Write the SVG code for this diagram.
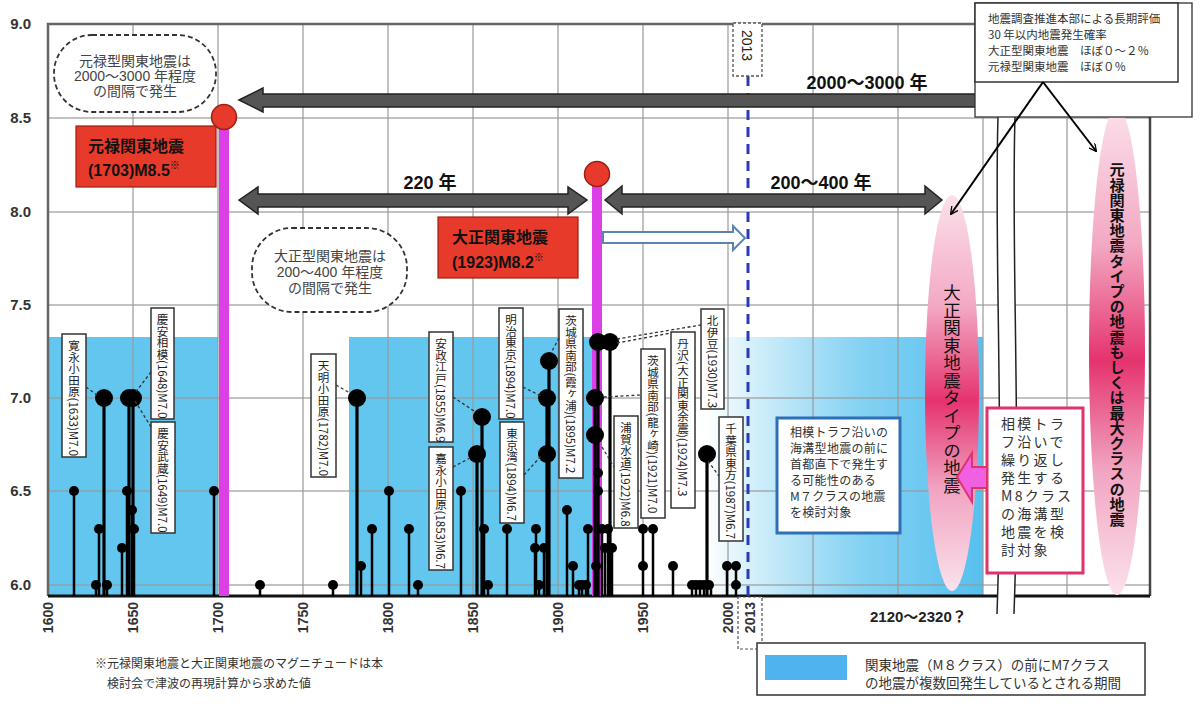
<svg xmlns="http://www.w3.org/2000/svg" width="1200" height="704" viewBox="0 0 1200 704">
<style>
text { font-family: "Liberation Sans", "Noto Sans CJK JP", sans-serif; }
.jp { font-family: "Noto Sans CJK JP", sans-serif; }
.grid { stroke: #9a9a9a; stroke-width: 1.5; opacity: 0.8; }
.stem { stroke: #000; stroke-width: 2.5; }
.stemB { stroke: #000; stroke-width: 3.2; }
.dot { fill: #000; }
.lead { stroke: #333; stroke-width: 1.3; stroke-dasharray: 3 2.5; fill: none; }
.lbox { fill: #fff; stroke: #333; stroke-width: 1.5; }
.vt { writing-mode: vertical-rl; font-size: 11.5px; fill: #222; font-family: "Noto Sans CJK JP", sans-serif; }
.bigarrow { fill: #555; stroke: #222; stroke-width: 1.5; }
.alabel { font-size: 18px; font-weight: bold; fill: #111; }
.ylab { font-size: 15px; font-weight: bold; fill: #333; text-anchor: end; }
.xlab { font-size: 14px; font-weight: bold; fill: #333; text-anchor: end; }
.bubble { fill: #fff; stroke: #333; stroke-width: 1.8; stroke-dasharray: 5 3; }
.btxt { font-size: 14px; fill: #444; text-anchor: middle; }
.redbox { fill: #e83a2a; stroke: #9a1f15; stroke-width: 1.2; }
.redtxt { font-size: 16px; font-weight: bold; fill: #111; }
.info { font-size: 11.5px; fill: #333; }
</style>
<defs>
<linearGradient id="pinkV" x1="0" y1="0" x2="0" y2="1">
<stop offset="0" stop-color="#fbe0ea"/>
<stop offset="0.28" stop-color="#f3a9c4"/>
<stop offset="0.52" stop-color="#e5336e"/>
<stop offset="0.74" stop-color="#f1a3c1"/>
<stop offset="1" stop-color="#fbe2ec"/>
</linearGradient>
<linearGradient id="blueH" x1="0" y1="0" x2="1" y2="0">
<stop offset="0" stop-color="#ffffff"/>
<stop offset="0.2" stop-color="#cdedfa"/>
<stop offset="0.55" stop-color="#86d2f3"/>
<stop offset="1" stop-color="#56c0ee"/>
</linearGradient>
<marker id="openArrow" viewBox="0 0 10 10" refX="9" refY="5" markerWidth="8" markerHeight="8" orient="auto" markerUnits="userSpaceOnUse">
<path d="M0,0 L10,5 L0,10" fill="none" stroke="#000" stroke-width="1.6"/>
</marker>
</defs>
<rect x="0" y="0" width="1200" height="704" fill="#fff"/>

<g id="m7-periods">
<rect x="48" y="337" width="170" height="259" fill="#62c6ee"/>
<rect x="349" y="337" width="244" height="259" fill="#62c6ee"/>
<rect x="705" y="337" width="278" height="259" fill="url(#blueH)"/>
</g>

<g id="grid">
<line class="grid" x1="48" y1="118" x2="1150" y2="118"/>
<line class="grid" x1="48" y1="212" x2="1150" y2="212"/>
<line class="grid" x1="48" y1="305" x2="1150" y2="305"/>
<line class="grid" x1="48" y1="398" x2="1150" y2="398"/>
<line class="grid" x1="48" y1="491" x2="1150" y2="491"/>
<line class="grid" x1="48" y1="585" x2="1150" y2="585"/>
<line class="grid" x1="133" y1="24" x2="133" y2="596"/>
<line class="grid" x1="218" y1="24" x2="218" y2="596"/>
<line class="grid" x1="303" y1="24" x2="303" y2="596"/>
<line class="grid" x1="388" y1="24" x2="388" y2="596"/>
<line class="grid" x1="473" y1="24" x2="473" y2="596"/>
<line class="grid" x1="558" y1="24" x2="558" y2="596"/>
<line class="grid" x1="643" y1="24" x2="643" y2="596"/>
<line class="grid" x1="728" y1="24" x2="728" y2="596"/>
<line class="grid" x1="813" y1="24" x2="813" y2="596"/>
<line class="grid" x1="898" y1="24" x2="898" y2="596"/>
<line class="grid" x1="983" y1="24" x2="983" y2="596"/>
<line class="grid" x1="1067" y1="117" x2="1067" y2="596"/>
</g>

<g id="frame">
<polyline points="48,596 48,24 975,24" fill="none" stroke="#666" stroke-width="2.5"/>
<line x1="1150" y1="117" x2="1150" y2="596" stroke="#444" stroke-width="2.5"/>
<line x1="48" y1="596" x2="1150" y2="596" stroke="#111" stroke-width="3"/>
</g>

<g id="axis-break">
<path d="M998,117 C994,250 1004,420 997,614 L1014,614 C1021,420 1011,250 1015,117 Z" fill="#fff"/>
<path d="M998,117 C994,250 1004,420 997,614" fill="none" stroke="#222" stroke-width="1.5"/>
<path d="M1015,117 C1011,250 1021,420 1014,614" fill="none" stroke="#222" stroke-width="1.5"/>
</g>

<g id="line-2013">
<line x1="748" y1="76" x2="748" y2="596" stroke="#2a3bb8" stroke-width="3" stroke-dasharray="10 7"/>
<rect x="733" y="23" width="29" height="53" fill="#fff" stroke="#555" stroke-width="1.3" stroke-dasharray="3 2"/>
<text transform="translate(742,30) rotate(90)" font-size="14" fill="#222">2013</text>
</g>

<g id="genroku-line">
<line x1="224" y1="118" x2="224" y2="596" stroke="#dd3fe6" stroke-width="10"/>
</g>
<g id="taisho-line">
<line x1="597" y1="174" x2="597" y2="596" stroke="#dd3fe6" stroke-width="10"/>
</g>

<g id="events">
<g class="stem">
<line x1="74" y1="491" x2="74" y2="596"/>
<line x1="96" y1="585" x2="96" y2="596"/>
<line x1="99" y1="529" x2="99" y2="596"/>
<line x1="107" y1="585" x2="107" y2="596"/>
<line x1="122" y1="548" x2="122" y2="596"/>
<line x1="127" y1="491" x2="127" y2="596"/>
<line x1="132" y1="510" x2="132" y2="596"/>
<line x1="134" y1="529" x2="134" y2="596"/>
<line x1="214" y1="491" x2="214" y2="596"/>
<line x1="260" y1="585" x2="260" y2="596"/>
<line x1="333" y1="585" x2="333" y2="596"/>
<line x1="361" y1="566" x2="361" y2="596"/>
<line x1="372" y1="529" x2="372" y2="596"/>
<line x1="389" y1="491" x2="389" y2="596"/>
<line x1="409" y1="529" x2="409" y2="596"/>
<line x1="418" y1="585" x2="418" y2="596"/>
<line x1="461" y1="491" x2="461" y2="596"/>
<line x1="484" y1="529" x2="484" y2="596"/>
<line x1="488" y1="585" x2="488" y2="596"/>
<line x1="507" y1="529" x2="507" y2="596"/>
<line x1="535" y1="548" x2="535" y2="596"/>
<line x1="536" y1="529" x2="536" y2="596"/>
<line x1="539" y1="585" x2="539" y2="596"/>
<line x1="544" y1="548" x2="544" y2="596"/>
<line x1="567" y1="510" x2="567" y2="596"/>
<line x1="573" y1="566" x2="573" y2="596"/>
<line x1="579" y1="585" x2="579" y2="596"/>
<line x1="582" y1="585" x2="582" y2="596"/>
<line x1="586" y1="585" x2="586" y2="596"/>
<line x1="588" y1="529" x2="588" y2="596"/>
<line x1="596" y1="566" x2="596" y2="596"/>
<line x1="598" y1="473" x2="598" y2="596"/>
<line x1="602" y1="529" x2="602" y2="596"/>
<line x1="608" y1="529" x2="608" y2="596"/>
<line x1="605" y1="548" x2="605" y2="596"/>
<line x1="612" y1="548" x2="612" y2="596"/>
<line x1="643" y1="529" x2="643" y2="596"/>
<line x1="653" y1="529" x2="653" y2="596"/>
<line x1="673" y1="566" x2="673" y2="596"/>
<line x1="692" y1="585" x2="692" y2="596"/>
<line x1="696" y1="585" x2="696" y2="596"/>
<line x1="700" y1="585" x2="700" y2="596"/>
<line x1="704" y1="585" x2="704" y2="596"/>
<line x1="711" y1="585" x2="711" y2="596"/>
<line x1="727" y1="566" x2="727" y2="596"/>
<line x1="736" y1="566" x2="736" y2="596"/>
</g>
<g class="stemB">
<line x1="104" y1="398" x2="104" y2="596"/>
<line x1="129" y1="398" x2="129" y2="596"/>
<line x1="133" y1="398" x2="133" y2="596"/>
<line x1="357" y1="398" x2="357" y2="596"/>
<line x1="477" y1="454" x2="477" y2="596"/>
<line x1="482" y1="417" x2="482" y2="596"/>
<line x1="547" y1="398" x2="547" y2="596"/>
<line x1="549" y1="361" x2="549" y2="596"/>
<line x1="595" y1="398" x2="595" y2="596"/>
<line x1="598" y1="342" x2="598" y2="596"/>
<line x1="610" y1="342" x2="610" y2="596"/>
<line x1="707" y1="454" x2="707" y2="596"/>
</g>
<g class="dot">
<circle cx="74" cy="491" r="5"/>
<circle cx="96" cy="585" r="5"/>
<circle cx="99" cy="529" r="5"/>
<circle cx="104" cy="398" r="9"/>
<circle cx="107" cy="585" r="5"/>
<circle cx="122" cy="548" r="5"/>
<circle cx="127" cy="491" r="5"/>
<circle cx="129" cy="398" r="9"/>
<circle cx="133" cy="398" r="9"/>
<circle cx="132" cy="510" r="5"/>
<circle cx="134" cy="529" r="5"/>
<circle cx="214" cy="491" r="5"/>
<circle cx="260" cy="585" r="5"/>
<circle cx="333" cy="585" r="5"/>
<circle cx="357" cy="398" r="9"/>
<circle cx="361" cy="566" r="5"/>
<circle cx="372" cy="529" r="5"/>
<circle cx="389" cy="491" r="5"/>
<circle cx="409" cy="529" r="5"/>
<circle cx="418" cy="585" r="5"/>
<circle cx="461" cy="491" r="5"/>
<circle cx="477" cy="454" r="9"/>
<circle cx="482" cy="417" r="9"/>
<circle cx="484" cy="529" r="5"/>
<circle cx="488" cy="585" r="5"/>
<circle cx="507" cy="529" r="5"/>
<circle cx="535" cy="548" r="5"/>
<circle cx="536" cy="529" r="5"/>
<circle cx="539" cy="585" r="5"/>
<circle cx="544" cy="548" r="5"/>
<circle cx="547" cy="398" r="9"/>
<circle cx="547" cy="454" r="9"/>
<circle cx="549" cy="361" r="9"/>
<circle cx="567" cy="510" r="5"/>
<circle cx="573" cy="566" r="5"/>
<circle cx="579" cy="585" r="5"/>
<circle cx="582" cy="585" r="5"/>
<circle cx="586" cy="585" r="5"/>
<circle cx="588" cy="529" r="5"/>
<circle cx="595" cy="398" r="9"/>
<circle cx="595" cy="435" r="9"/>
<circle cx="596" cy="566" r="5"/>
<circle cx="598" cy="342" r="9"/>
<circle cx="610" cy="342" r="9"/>
<circle cx="598" cy="473" r="5"/>
<circle cx="598" cy="491" r="5"/>
<circle cx="602" cy="529" r="5"/>
<circle cx="608" cy="529" r="5"/>
<circle cx="605" cy="548" r="5"/>
<circle cx="612" cy="548" r="5"/>
<circle cx="643" cy="529" r="5"/>
<circle cx="643" cy="566" r="5"/>
<circle cx="653" cy="529" r="5"/>
<circle cx="673" cy="566" r="5"/>
<circle cx="692" cy="585" r="5"/>
<circle cx="696" cy="585" r="5"/>
<circle cx="700" cy="585" r="5"/>
<circle cx="704" cy="585" r="5"/>
<circle cx="709" cy="585" r="5"/>
<circle cx="707" cy="454" r="9"/>
<circle cx="727" cy="566" r="5"/>
<circle cx="736" cy="566" r="5"/>
<circle cx="736" cy="585" r="5"/>
</g>
</g>

<g id="label-1633"><rect class="lbox" x="62" y="334" width="24" height="123"/><text class="vt" x="74" y="340">寛永小田原(1633)M7.0</text></g>
<g id="label-1648"><rect class="lbox" x="151" y="308" width="23" height="111"/><text class="vt" x="162.5" y="314">慶安相模(1648)M7.0</text></g>
<g id="label-1649"><rect class="lbox" x="151" y="422" width="24" height="111"/><text class="vt" x="163" y="428">慶安武蔵(1649)M7.0</text></g>
<g id="label-1782"><rect class="lbox" x="311" y="354" width="25" height="123"/><text class="vt" x="323.5" y="360">天明小田原(1782)M7.0</text></g>
<g id="label-1855"><rect class="lbox" x="429" y="332" width="24" height="110"/><text class="vt" x="441" y="338">安政江戸(1855)M6.9</text></g>
<g id="label-1853"><rect class="lbox" x="429" y="447" width="24" height="123"/><text class="vt" x="441" y="453">嘉永小田原(1853)M6.7</text></g>
<g id="label-1894a"><rect class="lbox" x="499" y="308" width="24" height="111"/><text class="vt" x="511" y="314">明治東京(1894)M7.0</text></g>
<g id="label-1894b"><rect class="lbox" x="500" y="422" width="24" height="101"/><text class="vt" x="512" y="428">東京湾(1894)M6.7</text></g>
<g id="label-1895"><rect class="lbox" x="559" y="309" width="24" height="169"/><text class="vt" x="571" y="315">茨城県南部(霞ヶ浦)(1895)M7.2</text></g>
<g id="label-1922"><rect class="lbox" x="614" y="416" width="24" height="112"/><text class="vt" x="626" y="422">浦賀水道(1922)M6.8</text></g>
<g id="label-1921"><rect class="lbox" x="641" y="349" width="24" height="169"/><text class="vt" x="653" y="355">茨城県南部(龍ヶ崎)(1921)M7.0</text></g>
<g id="label-1924"><rect class="lbox" x="671" y="332" width="24" height="176"/><text class="vt" x="683" y="338">丹沢(大正関東余震)(1924)M7.3</text></g>
<g id="label-1930"><rect class="lbox" x="701" y="309" width="23" height="100"/><text class="vt" x="712.5" y="315">北伊豆(1930)M7.3</text></g>
<g id="label-1987"><rect class="lbox" x="719" y="417" width="24" height="124"/><text class="vt" x="731" y="423">千葉県東方(1987)M6.7</text></g>

<g id="arrow-2000-3000">
<polygon class="bigarrow" points="239,100 263,88 263,94 976,94 976,107 263,107 263,112"/>
<text class="alabel" x="867" y="89" text-anchor="middle">2000〜3000 年</text>
</g>
<g id="arrow-220">
<polygon class="bigarrow" points="239,200 258,187 258,194 568,194 568,187 587,200 568,214 568,207 258,207 258,214"/>
<text class="alabel" x="430" y="189" text-anchor="middle">220 年</text>
</g>
<g id="arrow-200-400">
<polygon class="bigarrow" points="605,200 622,186 622,194 925,194 925,186 942,200 925,214 925,207 622,207 622,214"/>
<text class="alabel" x="821" y="189" text-anchor="middle">200〜400 年</text>
</g>
<g id="arrow-to-2013">
<polygon points="603,232 733,232 733,226 745,238 733,250 733,243 603,243" fill="#fff" stroke="#5b84b1" stroke-width="2"/>
</g>

<g id="genroku-quake">
<circle cx="224" cy="117" r="12.5" fill="#e83a2a" stroke="#9a1f15" stroke-width="1.5"/>
<rect class="redbox" x="76" y="126" width="140" height="61"/>
<text class="redtxt" x="88" y="152">元禄関東地震</text>
<text class="redtxt" x="88" y="176">(1703)M8.5<tspan font-size="10" dy="-7">※</tspan></text>
</g>
<g id="taisho-quake">
<circle cx="597" cy="174" r="12.5" fill="#e83a2a" stroke="#9a1f15" stroke-width="1.5"/>
<rect class="redbox" x="438" y="217" width="140" height="61"/>
<text class="redtxt" x="452" y="243">大正関東地震</text>
<text class="redtxt" x="452" y="268">(1923)M8.2<tspan font-size="10" dy="-7">※</tspan></text>
</g>

<g id="bubble-genroku">
<rect class="bubble" x="54" y="35" width="162" height="77" rx="38" ry="38"/>
<text class="btxt" x="135" y="66">元禄型関東地震は</text>
<text class="btxt" x="135" y="81">2000〜3000 年程度</text>
<text class="btxt" x="135" y="96">の間隔で発生</text>
</g>
<g id="bubble-taisho">
<rect class="bubble" x="252" y="228" width="155" height="84" rx="40" ry="40"/>
<text class="btxt" x="330" y="261" font-size="13.5">大正型関東地震は</text>
<text class="btxt" x="330" y="277" font-size="13.5">200〜400 年程度</text>
<text class="btxt" x="330" y="293" font-size="13.5">の間隔で発生</text>
</g>

<g id="m7-note">
<rect x="777" y="418" width="123" height="115" fill="#fff" stroke="#2f6fb5" stroke-width="3"/>
<text class="jp" font-size="12" fill="#333" letter-spacing="0.3">
<tspan x="790" y="437">相模トラフ沿いの</tspan>
<tspan x="790" y="453">海溝型地震の前に</tspan>
<tspan x="790" y="469">首都直下で発生す</tspan>
<tspan x="790" y="485">る可能性のある</tspan>
<tspan x="790" y="501">M７クラスの地震</tspan>
<tspan x="790" y="517">を検討対象</tspan>
</text>
</g>

<g id="taisho-type">
<ellipse cx="952" cy="393" rx="27" ry="198" fill="url(#pinkV)"/>
<text class="jp" x="952" y="284" font-size="17.5" fill="#111" style="writing-mode: vertical-rl;">大正関東地震タイプの地震</text>
</g>
<g id="genroku-type">
<ellipse cx="1117" cy="351" rx="28" ry="244" fill="url(#pinkV)"/>
<text class="jp" x="1117" y="162" font-size="15.2" font-weight="bold" fill="#111" style="writing-mode: vertical-rl;">元禄関東地震タイプの地震もしくは最大クラスの地震</text>
</g>

<g id="m8-note">
<rect x="987" y="408" width="96" height="165" fill="#fff" stroke="#e0336a" stroke-width="3"/>
<polygon points="957,477 972,453 972,467 987,467 987,488 972,488 972,502" fill="#f060e0" stroke="#e0336a" stroke-width="2"/>
<text class="jp" font-size="14" fill="#333" letter-spacing="2.3">
<tspan x="1001" y="429">相模トラ</tspan>
<tspan x="1001" y="447">フ沿いで</tspan>
<tspan x="1001" y="465">繰り返し</tspan>
<tspan x="1001" y="483">発生する</tspan>
<tspan x="1001" y="501">M8クラス</tspan>
<tspan x="1001" y="519">の海溝型</tspan>
<tspan x="1001" y="537">地震を検</tspan>
<tspan x="1001" y="555">討対象</tspan>
</text>
</g>

<g id="info-box">
<rect x="975" y="3" width="217" height="114" fill="#fff" stroke="#333" stroke-width="1.3"/>
<rect x="975" y="3" width="203" height="79" fill="#fff" stroke="#333" stroke-width="1.5"/>
<text class="info jp">
<tspan x="988" y="23">地震調査推進本部による長期評価</tspan>
<tspan x="988" y="39">30 年以内地震発生確率</tspan>
<tspan x="988" y="55">大正型関東地震　ほぼ０〜２％</tspan>
<tspan x="988" y="71">元禄型関東地震　ほぼ０％</tspan>
</text>
</g>

<g id="connectors">
<line class="lead" x1="86" y1="387" x2="97" y2="395"/>
<line class="lead" x1="151" y1="372" x2="135" y2="393"/>
<line class="lead" x1="151" y1="427" x2="135" y2="401"/>
<line class="lead" x1="336" y1="385" x2="350" y2="393"/>
<line class="lead" x1="453" y1="397" x2="474" y2="411"/>
<line class="lead" x1="453" y1="467" x2="470" y2="458"/>
<line class="lead" x1="523" y1="387" x2="541" y2="396"/>
<line class="lead" x1="524" y1="475" x2="541" y2="456"/>
<line class="lead" x1="559" y1="338" x2="551" y2="353"/>
<line class="lead" x1="602" y1="447" x2="614" y2="467"/>
<line class="lead" x1="604" y1="397" x2="641" y2="395"/>
<line class="lead" x1="617" y1="343" x2="671" y2="333"/>
<line class="lead" x1="617" y1="339" x2="701" y2="325"/>
<line class="lead" x1="708" y1="461" x2="719" y2="476"/>
<line x1="1043" y1="82" x2="951" y2="214" stroke="#000" stroke-width="2" marker-end="url(#openArrow)"/>
<line x1="1043" y1="82" x2="1096" y2="151" stroke="#000" stroke-width="2" marker-end="url(#openArrow)"/>
</g>

<g id="y-axis">
<text class="ylab" x="31" y="29">9.0</text>
<text class="ylab" x="31" y="123">8.5</text>
<text class="ylab" x="31" y="217">8.0</text>
<text class="ylab" x="31" y="310">7.5</text>
<text class="ylab" x="31" y="403">7.0</text>
<text class="ylab" x="31" y="496">6.5</text>
<text class="ylab" x="31" y="590">6.0</text>
</g>
<g id="x-axis">
<text class="xlab" transform="translate(53,602) rotate(-90)">1600</text>
<text class="xlab" transform="translate(138,602) rotate(-90)">1650</text>
<text class="xlab" transform="translate(223,602) rotate(-90)">1700</text>
<text class="xlab" transform="translate(308,602) rotate(-90)">1750</text>
<text class="xlab" transform="translate(393,602) rotate(-90)">1800</text>
<text class="xlab" transform="translate(478,602) rotate(-90)">1850</text>
<text class="xlab" transform="translate(563,602) rotate(-90)">1900</text>
<text class="xlab" transform="translate(648,602) rotate(-90)">1950</text>
<text class="xlab" transform="translate(733,602) rotate(-90)">2000</text>
<rect x="738" y="597" width="24" height="52" fill="#fff" stroke="#555" stroke-width="1.2" stroke-dasharray="3 2"/>
<text class="xlab" transform="translate(755,602) rotate(-90)">2013</text>
<text x="870" y="622" font-size="15" font-weight="bold" fill="#222">2120〜2320？</text>
</g>

<g id="legend">
<rect x="757" y="643" width="388" height="52" fill="#fff" stroke="#333" stroke-width="1.5"/>
<rect x="765" y="655" width="82" height="25" fill="#4fb3ef"/>
<text class="jp" font-size="13.5" fill="#333"><tspan x="865" y="670">関東地震（M８クラス）の前にM7クラス</tspan><tspan x="865" y="688">の地震が複数回発生しているとされる期間</tspan></text>
</g>

<g id="footnote">
<text class="jp" font-size="12" fill="#333"><tspan x="95" y="668">※元禄関東地震と大正関東地震のマグニチュードは本</tspan><tspan x="107" y="688">検討会で津波の再現計算から求めた値</tspan></text>
</g>
</svg>
